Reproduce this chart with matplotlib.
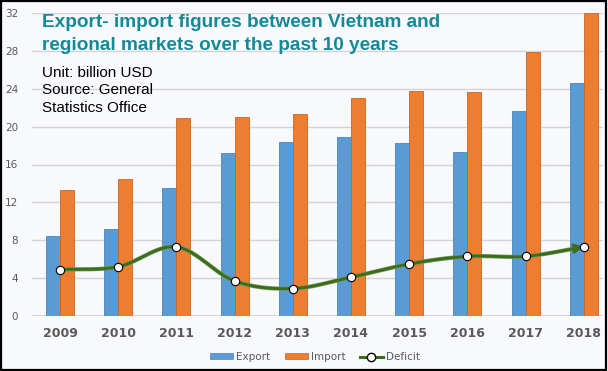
import numpy as np
import matplotlib
matplotlib.use("Agg")
import matplotlib.pyplot as plt
import matplotlib.patheffects as pe
from matplotlib.lines import Line2D
from matplotlib.patches import Patch, Rectangle

years = ['2009', '2010', '2011', '2012', '2013', '2014', '2015', '2016', '2017', '2018']
export = [8.4, 9.2, 13.5, 17.2, 18.4, 18.9, 18.3, 17.3, 21.6, 24.6]
imports = [13.3, 14.5, 20.9, 21.0, 21.3, 23.0, 23.8, 23.7, 27.9, 32.0]
deficit = [4.9, 5.2, 7.3, 3.7, 2.9, 4.1, 5.5, 6.3, 6.3, 7.3]
y_ticks = [0, 4, 8, 12, 16, 20, 24, 28, 32]

BLUE = '#5b9bd5'
ORANGE = '#ed7d31'
GREEN = '#3d6b1f'
TEAL = '#138a96'


def smooth(xs, ys, steps=30):
    # Catmull-Rom curve through the points, like Excel's smoothed line
    xs = np.asarray(xs, float)
    ys = np.asarray(ys, float)
    px = np.concatenate([[2 * xs[0] - xs[1]], xs, [2 * xs[-1] - xs[-2]]])
    py = np.concatenate([[2 * ys[0] - ys[1]], ys, [2 * ys[-1] - ys[-2]]])
    out_x, out_y = [], []
    t = np.linspace(0, 1, steps)
    for i in range(1, len(px) - 2):
        for p, out in ((px, out_x), (py, out_y)):
            p0, p1, p2, p3 = p[i - 1], p[i], p[i + 1], p[i + 2]
            out.extend(0.5 * (2 * p1 + (-p0 + p2) * t
                              + (2 * p0 - 5 * p1 + 4 * p2 - p3) * t ** 2
                              + (-p0 + 3 * p1 - 3 * p2 + p3) * t ** 3))
    return np.array(out_x), np.array(out_y)


fig = plt.figure(figsize=(6.08, 3.71), dpi=100)
fig.patch.set_facecolor('#f8f9fc')
ax = fig.add_axes([32 / 608, 1 - 316 / 371, (603 - 32) / 608, (316 - 13) / 371])
ax.set_facecolor('#f8f9fc')

x = np.arange(len(years))
w = 0.24
ax.bar(x - w / 2, export, w, color=BLUE, edgecolor='#4a86bd', linewidth=0.6, zorder=2)
ax.bar(x + w / 2, imports, w, color=ORANGE, edgecolor='#c86424', linewidth=0.6, zorder=2)

sx, sy = smooth(x, deficit)
ax.plot(sx, sy, color=GREEN, linewidth=2.0, zorder=3,
        path_effects=[pe.Stroke(linewidth=3.0, foreground='#6f9a4a'), pe.Normal()])
ax.annotate('', xy=(sx[-1], sy[-1]), xytext=(sx[-4], sy[-4]),
            arrowprops=dict(arrowstyle='-|>,head_length=0.6,head_width=0.3',
                            color=GREEN, lw=1.5, shrinkA=0, shrinkB=0), zorder=3)
ax.plot(x, deficit, 'o', markersize=6, markerfacecolor='white', markeredgecolor='black',
        markeredgewidth=0.8, zorder=4)

ax.set_xlim(-0.48, 9.33)
ax.set_ylim(0, 32)
ax.set_yticks(y_ticks)
ax.set_yticklabels([str(v) for v in y_ticks], fontsize=7.5, color='#595959')
ax.set_xticks(x)
ax.set_xticklabels(years, fontsize=9, fontweight='bold', color='#595959')
ax.tick_params(length=0)
ax.tick_params(axis='x', pad=8)
ax.tick_params(axis='y', pad=10)
ax.grid(axis='y', color='#d4d4d4', linewidth=1, zorder=0)
for s in ax.spines.values():
    s.set_visible(False)
ax.axhline(0, color='#d0d0d0', linewidth=1.2, zorder=1)

fig.text(42 / 608, 1 - 34 / 371, 'Export- import figures between Vietnam and\nregional markets over the past 10 years',
         fontsize=13.7, fontweight='bold', color=TEAL, family='Liberation Sans',
         va='center', ha='left', linespacing=1.45)
fig.text(42 / 608, 1 - 90.5 / 371, 'Unit: billion USD\nSource: General\nStatistics Office',
         fontsize=11, color='black', family='Liberation Sans', va='center', ha='left', linespacing=1.33)

handles = [Patch(facecolor=BLUE, edgecolor='#4a86bd', linewidth=0.5),
           Patch(facecolor=ORANGE, edgecolor='#c86424', linewidth=0.5),
           Line2D([0], [0], color=GREEN, lw=2.2, marker='o', markersize=6,
                  markerfacecolor='white', markeredgecolor='black')]
leg = fig.legend(handles, ['Export', 'Import', 'Deficit'], loc='center',
                 bbox_to_anchor=(315 / 608, 1 - 357 / 371), ncol=3, frameon=False,
                 fontsize=7.5, handlelength=2.2, handleheight=0.5, columnspacing=1.4,
                 handletextpad=0.3)
for t in leg.get_texts():
    t.set_color('#595959')

fig.patches.append(Rectangle((0.002, 0.004), 0.994, 0.992, transform=fig.transFigure,
                             fill=False, edgecolor='black', linewidth=1.6))

fig.savefig('out.png', dpi=100, facecolor=fig.get_facecolor())
